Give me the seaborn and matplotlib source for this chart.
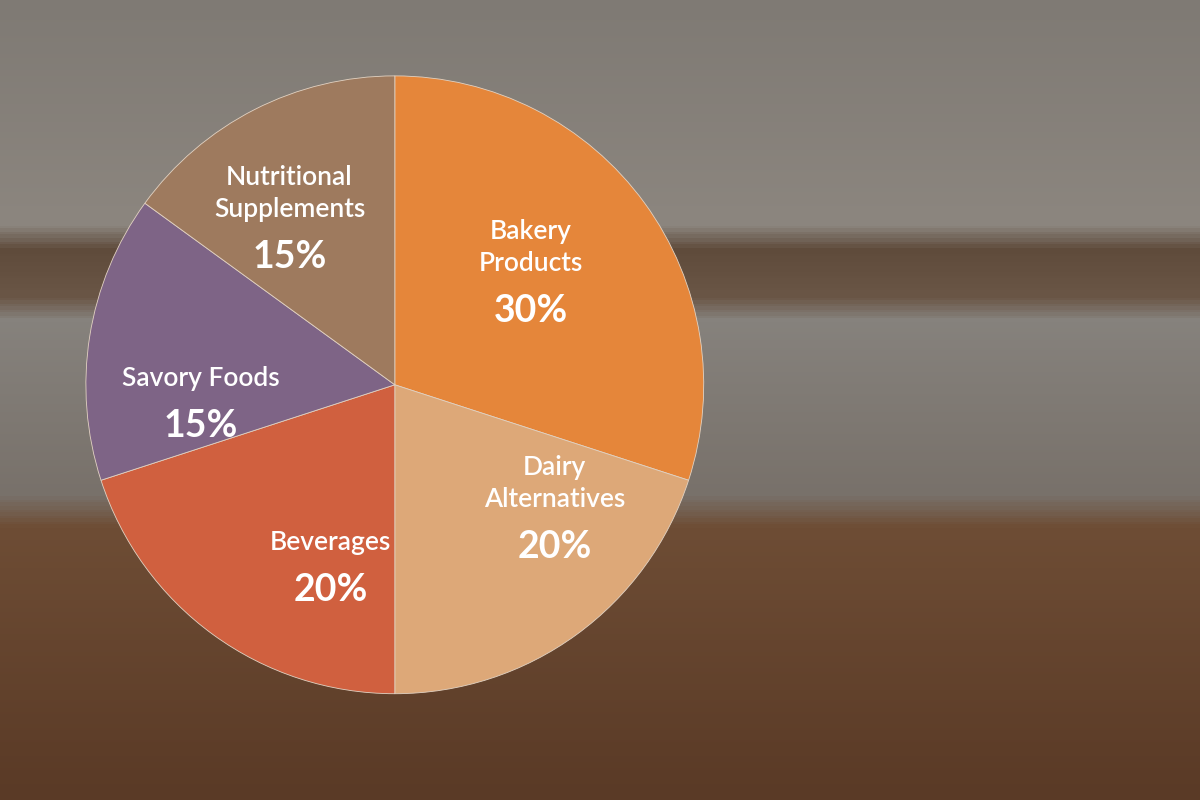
#!/usr/bin/env python3
# -*- coding: utf-8 -*-

"""
Sweet potato applications share - pie chart over a soft kitchen backdrop
"""

import numpy as np
import matplotlib
matplotlib.use('Agg')
import matplotlib.pyplot as plt
import seaborn as sns
from matplotlib.colors import LinearSegmentedColormap

# Data
categories = ['Bakery\nProducts', 'Dairy\nAlternatives', 'Beverages',
              'Savory Foods', 'Nutritional\nSupplements']
shares = [30, 20, 20, 15, 15]
slice_colors = ['#E5863A', '#DDA878', '#D0603F', '#7E6486', '#9E7A5E']


def set_style():
    """Clean style, font list set after seaborn."""
    sns.set_theme(style='white')
    plt.rcParams['font.family'] = ['Lato', 'DejaVu Sans']


def draw_backdrop(fig):
    """Blurred-photo look: wall, shelf, wall, wooden table."""
    bg = fig.add_axes([0, 0, 1, 1], zorder=0)
    stops = [(0.0, '#7f7a74'), (0.28, '#8c867f'), (0.31, '#5f4b3b'),
             (0.37, '#6a5646'), (0.40, '#86827d'), (0.62, '#78716a'),
             (0.66, '#6e4d35'), (1.0, '#5a3a26')]
    cmap = LinearSegmentedColormap.from_list('bg', stops)
    grad = np.linspace(0, 1, 400).reshape(-1, 1)
    bg.imshow(grad, aspect='auto', cmap=cmap, extent=[0, 1, 0, 1], origin='upper')
    bg.set_axis_off()


def draw_pie(fig):
    ax = fig.add_axes([0.069, 0.129, 0.52, 0.78], zorder=2)
    wedges, _ = ax.pie(shares, colors=sns.color_palette(slice_colors),
                       startangle=90, counterclock=False, radius=1.0,
                       wedgeprops={'edgecolor': '#e2d2c2', 'linewidth': 0.6})
    ax.set_aspect('equal')

    # label placement: radius and angular nudge from the wedge middle
    label_r = [0.55, 0.675, 0.61, 0.63, 0.61]
    label_nudge = [1, 14, 16, 13, 7]
    for w, name, val, r, dth in zip(wedges, categories, shares, label_r, label_nudge):
        mid = np.deg2rad((w.theta1 + w.theta2) / 2 + dth)
        x, y = r * np.cos(mid), r * np.sin(mid)
        ax.annotate(name, (x, y), xytext=(0, 5), textcoords='offset points',
                    ha='center', va='bottom', color='white', fontsize=19,
                    fontweight='semibold', linespacing=1.33)
        ax.annotate(f'{val}%', (x, y), xytext=(0, -8), textcoords='offset points',
                    ha='center', va='top', color='white', fontsize=27,
                    fontweight='bold')
    ax.set_xlim(-1.01, 1.01)
    ax.set_ylim(-1.01, 1.01)
    return ax


def main():
    set_style()
    fig = plt.figure(figsize=(12, 8), dpi=100)
    draw_backdrop(fig)
    draw_pie(fig)
    fig.savefig('out.png', dpi=100)
    plt.close(fig)


if __name__ == '__main__':
    main()
